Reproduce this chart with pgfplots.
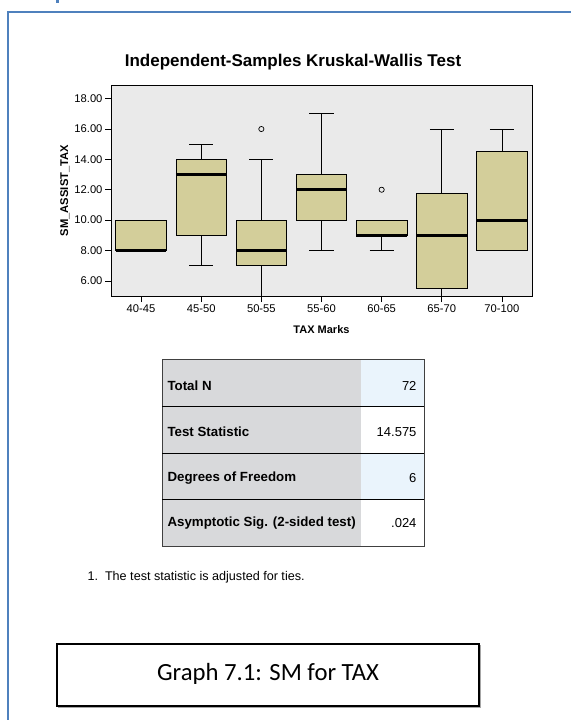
\documentclass[border=0pt]{standalone}
\usepackage{pgfplots}
\pgfplotsset{compat=1.18}
\usepgfplotslibrary{statistics}
\usepackage{fontspec}
\setmainfont{Liberation Sans}
\newfontfamily\calibri{Carlito}

\definecolor{pageblue}{HTML}{4F81BD}
\definecolor{plotbg}{HTML}{EAEAEA}
\definecolor{boxfill}{HTML}{D3CE9A}
\definecolor{cellgray}{HTML}{D8D9DB}
\definecolor{cellblue}{HTML}{EAF4FC}

\begin{document}
\begin{tikzpicture}
% page size: 571 x 720
\path[use as bounding box] (0pt,0pt) rectangle (571pt,-720pt);

% page border
\draw[pageblue, line width=2pt] (8pt,-720pt) -- (8pt,-12pt) -- (571pt,-12pt);
\fill[pageblue] (56pt,0pt) rectangle (59pt,-3pt);

% chart title
\node[font=\bfseries\fontsize{17}{20}\selectfont] at (293pt,-62pt) {Independent-Samples Kruskal-Wallis Test};

\begin{axis}[
  at={(111pt,-296pt)}, anchor=south west,
  scale only axis, width=421pt, height=211pt,
  xmin=-0.5, xmax=6.5, ymin=5, ymax=18.9,
  axis background/.style={fill=plotbg},
  axis line style={black, line width=0.8pt},
  xtick={0,1,2,3,4,5,6},
  xticklabels={40-45,45-50,50-55,55-60,60-65,65-70,70-100},
  ytick={6,8,10,12,14,16,18},
  yticklabel={\pgfmathprintnumber[fixed,precision=2,zerofill]{\tick}},
  /pgf/number format/assume math mode=true,
  tick align=outside, xtick pos=lower, ytick pos=left,
  major tick length=6pt,
  tick style={black, line width=0.6pt},
  ticklabel style={font=\fontsize{11.2}{13}\selectfont},
  xticklabel style={yshift=1pt},
  yticklabel style={xshift=1pt},
  xlabel={\bfseries TAX Marks},
  xlabel style={font=\fontsize{11}{13}\selectfont, yshift=-6pt},
  ylabel={\bfseries SM\_ASSIST\_TAX},
  ylabel style={font=\fontsize{11.2}{13}\selectfont, yshift=-2pt},
  boxplot/draw direction=y,
  boxplot/box extend=0.84,
  boxplot/whisker extend=0.4,
  boxplot/every median/.style={line width=3.2pt},
  boxplot/every box/.style={fill=boxfill, draw=black, line width=0.8pt},
  boxplot/every whisker/.style={black, line width=0.8pt},
]
\addplot[boxplot prepared={draw position=0, lower whisker=8, lower quartile=8,
  median=8, upper quartile=10, upper whisker=10}] coordinates {};
\addplot[boxplot prepared={draw position=1, lower whisker=7, lower quartile=9,
  median=13, upper quartile=14, upper whisker=15}] coordinates {};
\addplot[boxplot prepared={draw position=2, lower whisker=5, lower quartile=7,
  median=8, upper quartile=10, upper whisker=14}] coordinates {};
\addplot[boxplot prepared={draw position=3, lower whisker=8, lower quartile=10,
  median=12, upper quartile=13, upper whisker=17}] coordinates {};
\addplot[boxplot prepared={draw position=4, lower whisker=8, lower quartile=9,
  median=9, upper quartile=10, upper whisker=10}] coordinates {};
\addplot[boxplot prepared={draw position=5, lower whisker=5, lower quartile=5.5,
  median=9, upper quartile=11.75, upper whisker=16}] coordinates {};
\addplot[boxplot prepared={draw position=6, lower whisker=8, lower quartile=8,
  median=10, upper quartile=14.5, upper whisker=16}] coordinates {};
% outliers
\addplot[only marks, mark=o, mark size=2.6pt, black, line width=0.7pt]
  coordinates {(2,16) (4,12)};
\end{axis}

% test summary table
\fill[cellgray] (162pt,-359pt) rectangle (361pt,-546pt);
\fill[cellblue] (361pt,-359pt) rectangle (424pt,-406pt);
\fill[white] (361pt,-406pt) rectangle (424pt,-453pt);
\fill[cellblue] (361pt,-453pt) rectangle (424pt,-499pt);
\fill[white] (361pt,-499pt) rectangle (424pt,-546pt);
\draw[black!75, line width=0.8pt] (162pt,-359pt) rectangle (424pt,-546pt);
\foreach \yy in {406,453,499}
  \draw[black, line width=0.8pt] (162pt,-\yy pt) -- (424pt,-\yy pt);
\begin{scope}[every node/.style={font=\bfseries\fontsize{13.3}{15}\selectfont, anchor=west}]
\node at (164pt,-386pt) {Total N};
\node at (164pt,-432pt) {Test Statistic};
\node at (164pt,-478pt) {Degrees of Freedom};
\node at (164pt,-523pt) {Asymptotic Sig. (2-sided test)};
\end{scope}
\begin{scope}[every node/.style={font=\fontsize{13}{15}\selectfont, anchor=east}]
\node at (420pt,-386pt) {72};
\node at (420pt,-432pt) {14.575};
\node at (420pt,-478pt) {6};
\node at (420pt,-523pt) {.024};
\end{scope}

% footnote
\node[anchor=west, font=\fontsize{12.6}{15}\selectfont] at (84pt,-577pt)
  {1.\hspace{7pt}The test statistic is adjusted for ties.};

% caption box
\draw[black!35, line width=1.4pt] (58.5pt,-645.5pt) rectangle (480.5pt,-707.5pt);
\draw[black, line width=1.4pt, fill=white] (57pt,-644pt) rectangle (479pt,-706pt);
\node[font=\calibri\fontsize{24.7}{28}\selectfont] at (268pt,-674pt) {Graph 7.1: SM for TAX};
\end{tikzpicture}
\end{document}
